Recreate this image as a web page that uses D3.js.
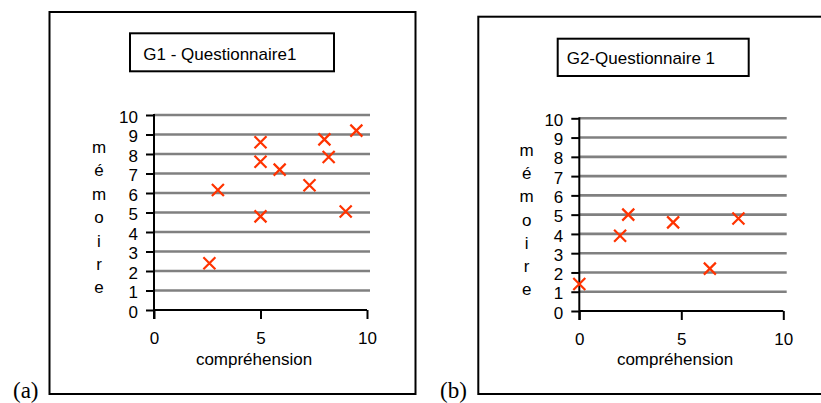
<!DOCTYPE html>
<html>
<head>
<meta charset="utf-8">
<script src="https://cdn.jsdelivr.net/npm/d3@7"></script>
<style>
  html, body { margin: 0; padding: 0; background: #fff; }
  svg { display: block; }
</style>
</head>
<body>
<svg id="chart" width="821" height="403"></svg>
<script>
// ---- data ----
const titles = ["G1 - Questionnaire1", "G2-Questionnaire 1"];
const panelLabels = ["(a)", "(b)"];
const xTitle = "compréhension";
const yTitleLetters = ["m", "é", "m", "o", "i", "r", "e"];
const xTicks = [0, 5, 10];
const yTicks = [0, 1, 2, 3, 4, 5, 6, 7, 8, 9, 10];

const g1X = [2.6, 3.0, 5.0, 5.0, 5.0, 5.9, 7.3, 8.0, 8.2, 9.0, 9.5];
const g1Y = [2.4, 6.15, 8.6, 7.6, 4.8, 7.2, 6.4, 8.75, 7.85, 5.05, 9.2];
const g2X = [0.0, 2.0, 2.4, 4.6, 6.4, 7.8];
const g2Y = [1.4, 3.9, 5.0, 4.6, 2.2, 4.8];

const seriesX = [g1X, g2X];
const seriesY = [g1Y, g2Y];

// ---- layout ----
const panels = [
  { frame: [49.5, 12, 366, 382], tbox: [130, 33.3, 204, 38], tx: 143.3, ty: 60,
    x0: 154, x1: 367, y0: 310, y1: 115, gridEnd: 370, yTitleX: 99, yTitleY: 152.7, yTitleStep: 23.45,
    xTitleX: 254, labX: 13, labY: 398 },
  { frame: [478.3, 16.7, 360, 377.3], tbox: [557.7, 38.7, 191, 37.3], tx: 566.7, ty: 63.5,
    x0: 579.3, x1: 783.3, y0: 311, y1: 118.3, gridEnd: 786.7, yTitleX: 526.7, yTitleY: 156.1, yTitleStep: 23.17,
    xTitleX: 675, labX: 440, labY: 398 }
];

const sans = '"Liberation Sans", Arial, Helvetica, sans-serif';
const serif = '"Liberation Serif", "Times New Roman", serif';

const svg = d3.select("#chart");
svg.append("rect").attr("width", 821).attr("height", 403).attr("fill", "#fff");

const markerColor = "#ff3300";
const fs = 17;

panels.forEach((p, i) => {
  const g = svg.append("g");
  // outer frame
  g.append("rect")
    .attr("x", p.frame[0]).attr("y", p.frame[1])
    .attr("width", p.frame[2]).attr("height", p.frame[3])
    .attr("fill", "none").attr("stroke", "#000").attr("stroke-width", 2);
  // title box
  g.append("rect")
    .attr("x", p.tbox[0]).attr("y", p.tbox[1])
    .attr("width", p.tbox[2]).attr("height", p.tbox[3])
    .attr("fill", "#fff").attr("stroke", "#000").attr("stroke-width", 2);
  g.append("text").attr("x", p.tx).attr("y", p.ty)
    .style("font-family", sans).style("font-size", fs + "px").attr("fill", "#000").text(titles[i]);

  const x = d3.scaleLinear().domain([0, 10]).range([p.x0, p.x1]);
  const y = d3.scaleLinear().domain([0, 10]).range([p.y0, p.y1]);

  // gridlines
  g.append("g").selectAll("line")
    .data(yTicks.filter(d => d > 0))
    .join("line")
    .attr("x1", x(0)).attr("x2", p.gridEnd)
    .attr("y1", d => y(d)).attr("y2", d => y(d))
    .attr("stroke", "#808080").attr("stroke-width", 2.6);

  // y axis
  const yAxis = g.append("g").attr("transform", `translate(${x(0)},0)`)
    .call(d3.axisLeft(y).tickValues(yTicks).tickSize(8).tickPadding(8).tickFormat(d3.format("d")));
  yAxis.select(".domain").remove();
  yAxis.selectAll(".tick line").attr("stroke", "#000").attr("stroke-width", 2);
  yAxis.selectAll(".tick text").attr("fill", "#000").attr("dy", "0.42em")
    .style("font-family", sans).style("font-size", fs + "px");

  // x axis
  const xAxis = g.append("g").attr("transform", `translate(0,${y(0)})`)
    .call(d3.axisBottom(x).tickValues(xTicks).tickSize(9).tickPadding(13).tickFormat(d3.format("d")));
  xAxis.select(".domain").remove();
  xAxis.selectAll(".tick line").attr("stroke", "#000").attr("stroke-width", 2);
  xAxis.selectAll(".tick text").attr("fill", "#000")
    .style("font-family", sans).style("font-size", fs + "px");

  // axis lines
  g.append("line").attr("x1", x(0)).attr("x2", x(0))
    .attr("y1", y(10) - 1).attr("y2", y(0) + 9)
    .attr("stroke", "#000").attr("stroke-width", 2);
  g.append("line").attr("x1", x(0)).attr("x2", x(10))
    .attr("y1", y(0)).attr("y2", y(0))
    .attr("stroke", "#000").attr("stroke-width", 2);

  // axis titles
  g.append("text").attr("x", p.xTitleX).attr("y", 365)
    .attr("text-anchor", "middle").style("font-family", sans).style("font-size", fs + "px")
    .attr("fill", "#000").text(xTitle);
  g.append("g").selectAll("text")
    .data(yTitleLetters)
    .join("text")
    .attr("x", p.yTitleX)
    .attr("y", (d, k) => p.yTitleY + k * p.yTitleStep)
    .attr("text-anchor", "middle").style("font-family", sans).style("font-size", fs + "px")
    .attr("fill", "#000")
    .text(d => d);

  // markers (X shapes)
  const pts = seriesX[i].map((v, k) => [v, seriesY[i][k]]);
  const h = 6;
  g.append("g").selectAll("path")
    .data(pts)
    .join("path")
    .attr("d", d => {
      const cx = x(d[0]), cy = y(d[1]);
      return `M${cx - h},${cy - h}L${cx + h},${cy + h}M${cx - h},${cy + h}L${cx + h},${cy - h}`;
    })
    .attr("stroke", markerColor).attr("stroke-width", 2.2).attr("fill", "none");

  // panel label
  g.append("text").attr("x", p.labX).attr("y", p.labY)
    .style("font-family", serif).style("font-size", "23px").attr("fill", "#000").text(panelLabels[i]);
});
</script>
</body>
</html>
